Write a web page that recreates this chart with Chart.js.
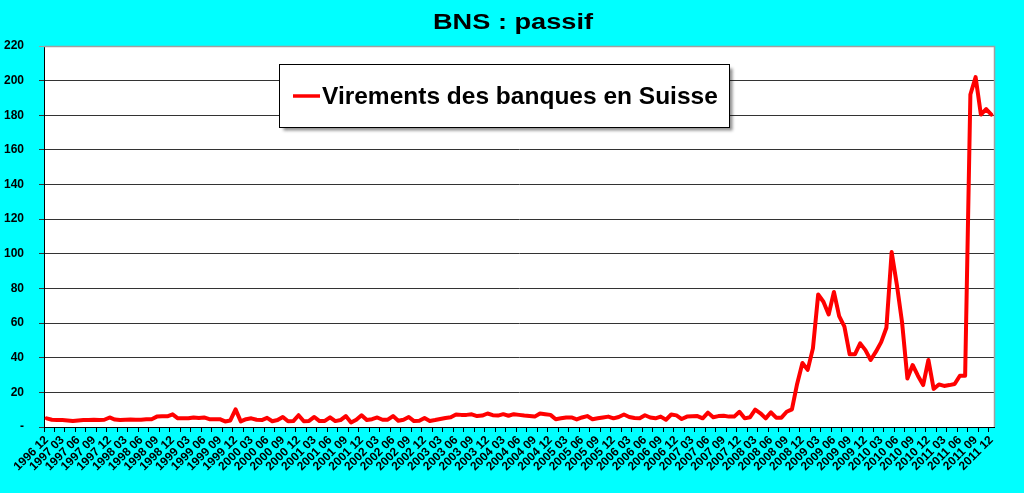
<!DOCTYPE html>
<html>
<head>
<meta charset="utf-8">
<script src="https://cdn.jsdelivr.net/npm/chart.js@4"></script>
<style>
html,body{margin:0;padding:0;background:#00FFFF;}
canvas{display:block;}
</style>
</head>
<body>
<canvas id="c" width="1024" height="493"></canvas>
<script>
// ---- data ----
const seriesName = 'Virements des banques en Suisse';
const chartTitle = 'BNS : passif';
const startYear = 1996, startMonth = 12, monthCount = 181;
const yTicks = [0,20,40,60,80,100,120,140,160,180,200,220];

// monthly values (billions CHF), 1996-12 .. 2011-12
const values1996 = [5];
const values1997 = [4.2,4,4,3.8,3.5,3.8,4,4,4.2,4,4.2,5.5];
const values1998 = [4.3,4,4.2,4.3,4.2,4.2,4.5,4.5,6,6.2,6.2,7.3];
const values1999 = [5,5,5,5.5,5.2,5.5,4.5,4.5,4.5,3.2,3.8,10.2];
const values2000 = [3.2,4.5,5,4.2,4,5.3,3.3,4,5.8,3.3,3.4,6.8];
const values2001 = [3.3,3.5,5.8,3.4,3.5,5.6,3.4,4,6.3,2.6,4.2,6.8];
const values2002 = [4,4.5,5.5,4.2,4.2,6.3,3.6,4.2,5.8,3.4,3.6,5.2];
const values2003 = [3.5,4,4.6,5.2,5.6,7.2,7,7,7.3,6.3,6.6,7.8];
const values2004 = [6.8,6.6,7.4,6.5,7.4,7,6.6,6.3,6,7.8,7.4,7];
const values2005 = [4.5,5,5.5,5.5,4.4,5.5,6.3,4.5,5,5.5,6,5];
const values2006 = [5.8,7.2,5.8,5.2,5,6.8,5.5,5,6,4.2,7.2,6.7];
const values2007 = [4.6,6,6.2,6.3,5,8.3,5.6,6.3,6.5,6,6,8.8];
const values2008 = [5,5.6,10,7.9,5,8.5,5.4,5.4,8.8,10.2,25,37];
const values2009 = [33,45.4,76.5,72.3,65,78,64,58,42,42,48.3,44.4];
const values2010 = [38.7,43.5,49,57.3,101,82,60,28,35.8,29.6,24.2,38.7];
const values2011 = [22,24.6,23.7,24.2,24.8,29.6,29.6,192,202,180.4,183.6,180.4];

const values = [].concat(values1996,values1997,values1998,values1999,values2000,
  values2001,values2002,values2003,values2004,values2005,values2006,values2007,
  values2008,values2009,values2010,values2011);

// category labels "YYYY MM"
const categories = [];
for (let i = 0; i < monthCount; i++) {
  const t = startYear*12 + (startMonth-1) + i;
  const y = Math.floor(t/12), m = t%12 + 1;
  categories.push(y + ' ' + String(m).padStart(2,'0'));
}

const FONT = "'Liberation Sans', Arial, Helvetica, sans-serif";

const bgPlugin = {
  id: 'bg',
  beforeDraw(chart) {
    const {ctx, chartArea: a} = chart;
    ctx.save();
    ctx.fillStyle = '#00FFFF';
    ctx.fillRect(0, 0, chart.width, chart.height);
    ctx.fillStyle = '#FFFFFF';
    ctx.fillRect(a.left, a.top, a.right - a.left, a.bottom - a.top);
    ctx.restore();
  },
  beforeDatasetsDraw(chart) {
    const {ctx, chartArea: a} = chart;
    ctx.save();
    ctx.strokeStyle = '#A0A0A0';
    ctx.lineWidth = 1.5;
    ctx.beginPath();
    ctx.moveTo(a.left, a.top + 0.5);
    ctx.lineTo(a.right + 0.5, a.top + 0.5);
    ctx.lineTo(a.right + 0.5, a.bottom);
    ctx.stroke();
    ctx.restore();
  }
};

// wide title, drawn as canvas text with a horizontal stretch
const wideTitle = {
  id: 'wideTitle',
  afterDraw(chart, args, opts) {
    const {ctx} = chart;
    ctx.save();
    ctx.font = 'bold 22px ' + FONT;
    ctx.fillStyle = '#000';
    ctx.textAlign = 'left';
    ctx.textBaseline = 'alphabetic';
    const w = ctx.measureText(opts.text).width;
    const sx = opts.width / w;
    ctx.translate(opts.cx - opts.width/2, opts.baseline);
    ctx.scale(sx, 1);
    ctx.fillText(opts.text, 0, 0);
    ctx.restore();
  }
};

const boxLegend = {
  id: 'boxLegend',
  afterDraw(chart) {
    const {ctx} = chart;
    const ds = chart.data.datasets[0];
    const x = 279.5, y = 64.5, w = 450, h = 63;
    ctx.save();
    ctx.shadowColor = 'rgba(0,0,0,0.45)';
    ctx.shadowOffsetX = 3;
    ctx.shadowOffsetY = 3;
    ctx.shadowBlur = 3;
    ctx.fillStyle = '#FFFFFF';
    ctx.fillRect(x, y, w, h);
    ctx.shadowColor = 'transparent';
    ctx.strokeStyle = '#000';
    ctx.lineWidth = 1;
    ctx.strokeRect(x, y, w, h);
    const cy = y + h/2;
    ctx.strokeStyle = ds.borderColor;
    ctx.lineWidth = 3.5;
    ctx.beginPath();
    ctx.moveTo(293, cy);
    ctx.lineTo(320, cy);
    ctx.stroke();
    ctx.fillStyle = '#000';
    ctx.font = 'bold 24.5px ' + FONT;
    ctx.textBaseline = 'middle';
    ctx.textAlign = 'left';
    ctx.fillText(ds.label, 322, cy + 1);
    ctx.restore();
  }
};

new Chart(document.getElementById('c'), {
  type: 'line',
  data: {
    labels: categories,
    datasets: [{
      label: seriesName,
      data: values,
      borderColor: '#FF0000',
      borderWidth: 4,
      borderJoinStyle: 'round',
      borderCapStyle: 'round',
      pointRadius: 0,
      tension: 0,
      fill: false
    }]
  },
  options: {
    responsive: false,
    animation: false,
    devicePixelRatio: 1,
    layout: { padding: { left: 0, right: 30, top: 46, bottom: 0 } },
    plugins: {
      legend: { display: false },
      tooltip: { enabled: false },
      title: { display: false },
      wideTitle: { text: chartTitle, cx: 513, width: 160, baseline: 28.5 }
    },
    scales: {
      x: {
        type: 'category',
        offset: true,
        grid: {
          offset: true,
          drawOnChartArea: false,
          drawTicks: true,
          tickLength: 5,
          color: (ctx) => (ctx.index % 2 === 0 ? '#000' : 'rgba(0,0,0,0)')
        },
        border: { display: true, color: '#000', width: 1 },
        ticks: {
          autoSkip: false,
          maxRotation: 45,
          minRotation: 45,
          padding: 1,
          color: '#000',
          font: { family: FONT, size: 12, weight: 'bold' },
          callback: function (v, i) { return i % 3 === 0 ? this.getLabelForValue(v) : ''; }
        },
        afterFit(s) { s.height = 66; }
      },
      y: {
        min: yTicks[0],
        max: yTicks[yTicks.length - 1],
        afterBuildTicks(s) { s.ticks = yTicks.map(v => ({ value: v })); },
        grid: {
          color: (ctx) => (ctx.tick && ctx.tick.value === 220 ? '#A0A0A0' : '#333'),
          tickLength: 5
        },
        border: { display: true, color: '#000', width: 1 },
        ticks: {
          padding: 15,
          color: '#000',
          font: { family: FONT, size: 12, weight: 'bold' },
          callback: (v) => (v === 0 ? '-' : v)
        },
        afterFit(s) { s.width = 44; }
      }
    }
  },
  plugins: [bgPlugin, wideTitle, boxLegend]
});
</script>
</body>
</html>
